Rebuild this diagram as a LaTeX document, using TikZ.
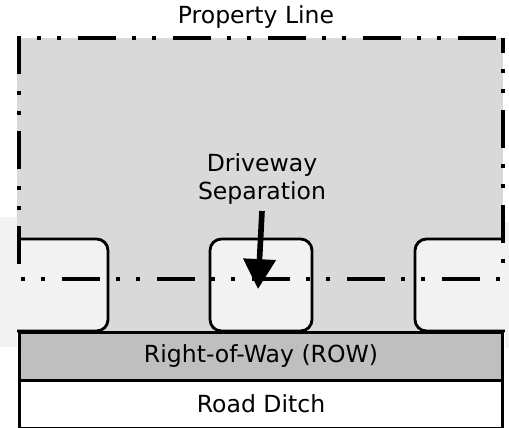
\documentclass[tikz,border=0pt]{standalone}
\usepackage{fontspec}
\setmainfont{DejaVu Sans}
\usepackage{tikz}
\usetikzlibrary{arrows.meta,positioning}

\begin{document}
\begin{tikzpicture}[
    x=0.02cm, y=-0.02cm,
    font=\fontsize{13.4}{16.4}\selectfont,
    drive/.style={draw=black, line width=1.6pt, fill=black!5, rounded corners=6.5pt},
    band/.style={rectangle, draw=black, line width=1.7pt, minimum width=9.68cm, minimum height=0.96cm, text centered, inner sep=0pt, outer sep=0pt},
    propline/.style={line width=2.8pt, line join=miter, dash pattern=on 0.76cm off 0.32cm on 0.08cm off 0.32cm on 0.08cm off 0.34cm}
]
\useasboundingbox (0,0) rectangle (509,427);
% lot
\fill[black!15] (17,38) rectangle (503,333);
% driveways
\draw[drive] (-30,239) rectangle (108,331);
\draw[drive] (210,239) rectangle (312,331);
\draw[drive] (415,239) rectangle (540,331);
% next lots
\fill[black!5] (0,217) rectangle (17,347);
\fill[black!5] (505,222) rectangle (509,348);
% property line
\draw[propline] (19,264) -- (19,38) -- (503,38);
\draw[propline, dash phase=0.46cm] (503,38) -- (503,265);
\draw[propline, dash phase=1.04cm] (19,279) -- (503,279);

\node (row) [band, fill=black!25] at (261,356) {Right-of-Way (ROW)};
\node (ditch) [band, fill=white, below=0pt of row] {Road Ditch};

\node (prop) at (256,17) {Property Line};
\node (sep) [align=center] at (262,179) {Driveway\\Separation};
\coordinate (tip) at (258,289);
\draw[line width=3.2pt, -{Triangle[width=18pt,length=17pt]}] (sep.south) -- (tip);
\end{tikzpicture}
\end{document}
